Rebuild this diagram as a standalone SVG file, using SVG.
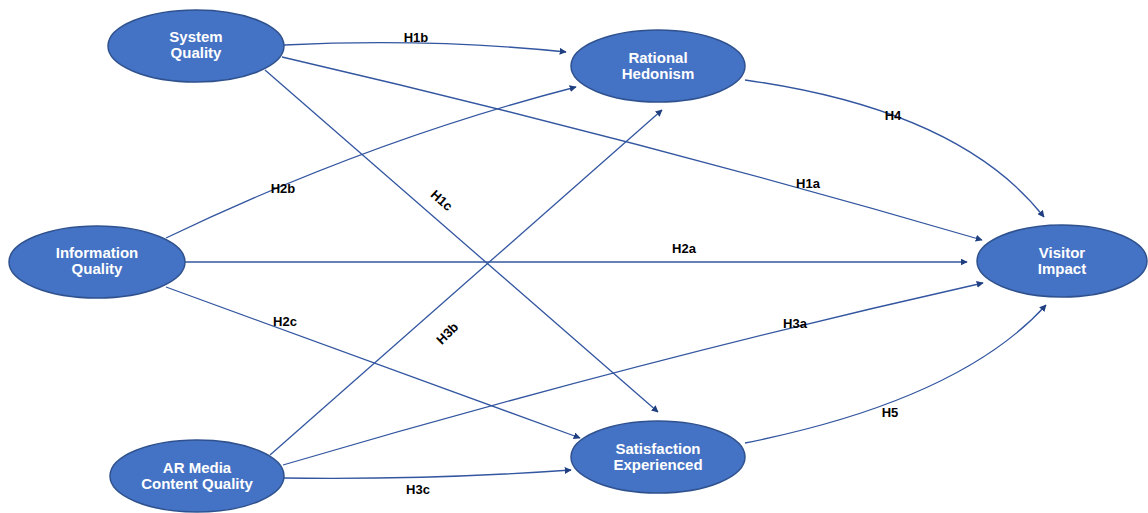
<svg xmlns="http://www.w3.org/2000/svg" width="1148" height="513" viewBox="0 0 1148 513">
<defs>
<marker id="ah" viewBox="0 0 10 10" refX="9" refY="5" markerWidth="7" markerHeight="7" orient="auto" markerUnits="userSpaceOnUse">
<path d="M0,0 L10,5 L0,10 Z" fill="#1F3F80"/>
</marker>
<style>
.node ellipse{fill:#4472C4;stroke:#2F528F;stroke-width:1.5}
.node text{fill:#fff;font-family:"Liberation Sans",Arial,sans-serif;font-weight:bold;font-size:15px;text-anchor:middle}
.edges path{fill:none;stroke:#3356A0;stroke-width:1.3;marker-end:url(#ah)}
.lbl{fill:#000;font-family:"Liberation Sans",Arial,sans-serif;font-weight:bold;font-size:13px;text-anchor:middle}
</style>
</defs>
<rect width="1148" height="513" fill="#fff"/>
<g id="connectors" class="edges">
<path d="M284,45 Q430,38 566,52"/>
<path d="M282,57 Q640,140 982,240"/>
<path d="M265,70 L658,412"/>
<path d="M166,238 Q370,140 576,87"/>
<path d="M185,262 L967,262"/>
<path d="M166,287 L580,438"/>
<path d="M270,455 L662,110"/>
<path d="M283,465 Q640,360 983,283"/>
<path d="M283,478 Q430,480 571,470"/>
<path d="M745,80 Q960,110 1044,217"/>
<path d="M745,443 Q960,400 1046,305"/>
</g>
<g id="labels">
<text class="lbl" x="416" y="42">H1b</text>
<text class="lbl" x="808" y="188">H1a</text>
<text class="lbl" x="442" y="205" transform="rotate(42 442 200)">H1c</text>
<text class="lbl" x="283" y="193">H2b</text>
<text class="lbl" x="684" y="253">H2a</text>
<text class="lbl" x="285" y="326">H2c</text>
<text class="lbl" x="447" y="338" transform="rotate(-45 447 333)">H3b</text>
<text class="lbl" x="795" y="328">H3a</text>
<text class="lbl" x="418" y="494">H3c</text>
<text class="lbl" x="893" y="120">H4</text>
<text class="lbl" x="890" y="417">H5</text>
</g>
<g id="system-quality" class="node"><ellipse cx="196" cy="46" rx="88" ry="36"/><text x="196" y="42">System</text><text x="196" y="58">Quality</text></g>
<g id="rational-hedonism" class="node"><ellipse cx="658" cy="66" rx="87" ry="36"/><text x="658" y="63">Rational</text><text x="658" y="79">Hedonism</text></g>
<g id="information-quality" class="node"><ellipse cx="97" cy="262" rx="88" ry="36"/><text x="97" y="258">Information</text><text x="97" y="274">Quality</text></g>
<g id="visitor-impact" class="node"><ellipse cx="1062" cy="261" rx="85" ry="36"/><text x="1062" y="258">Visitor</text><text x="1062" y="274">Impact</text></g>
<g id="ar-media" class="node"><ellipse cx="197" cy="476" rx="87" ry="36"/><text x="197" y="473">AR Media</text><text x="197" y="489">Content Quality</text></g>
<g id="satisfaction" class="node"><ellipse cx="658" cy="457" rx="87" ry="36"/><text x="658" y="454">Satisfaction</text><text x="658" y="470">Experienced</text></g>
</svg>
